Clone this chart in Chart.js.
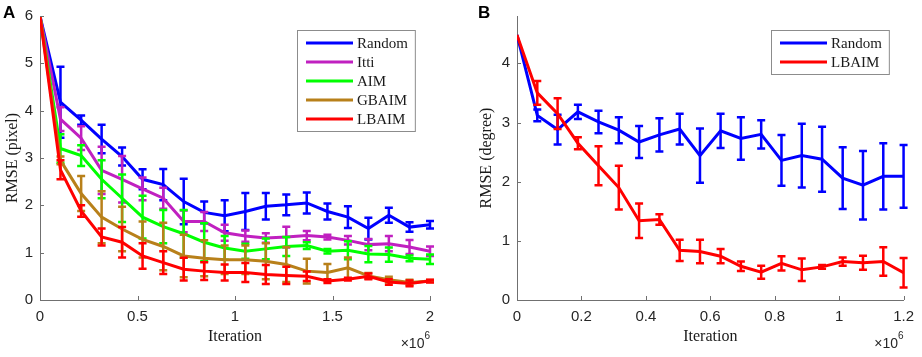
<!DOCTYPE html>
<html>
<head>
<meta charset="utf-8">
<script src="https://cdn.jsdelivr.net/npm/chart.js@4/dist/chart.umd.min.js"></script>
<style>
  html, body { margin: 0; padding: 0; background: #fff; }
  #wrap { position: relative; width: 922px; height: 357px; }
  canvas { position: absolute; top: 0; }
  #chartA { left: 0; }
  #chartB { left: 461px; }
</style>
</head>
<body>
<div id="wrap">
  <canvas id="chartA" width="461" height="357"></canvas>
  <canvas id="chartB" width="461" height="357"></canvas>
</div>
<script>
// iterations, in units of 1e6
const iterA = [0, 0.105, 0.211, 0.316, 0.421, 0.526, 0.632, 0.737, 0.842, 0.947,
               1.053, 1.158, 1.263, 1.368, 1.474, 1.579, 1.684, 1.789, 1.895, 2.0];
const iterB = [0, 0.063, 0.126, 0.189, 0.253, 0.316, 0.379, 0.442, 0.505, 0.568,
               0.632, 0.695, 0.758, 0.821, 0.884, 0.947, 1.011, 1.074, 1.137, 1.2];

// panel A - RMSE (pixel)
const randomA    = [6, 4.18, 3.8, 3.4, 3.03, 2.55, 2.44, 2.08, 1.85, 1.78, 1.87, 1.98, 2.01, 2.05, 1.87, 1.75, 1.51, 1.79, 1.54, 1.59];
const randomAErr = [0, 0.75, 0.1, 0.3, 0.19, 0.21, 0.33, 0.48, 0.23, 0.33, 0.39, 0.28, 0.22, 0.22, 0.17, 0.23, 0.23, 0.16, 0.1, 0.08];
const ittiA      = [6, 3.82, 3.42, 2.74, 2.55, 2.35, 2.15, 1.66, 1.66, 1.42, 1.35, 1.31, 1.33, 1.36, 1.33, 1.26, 1.17, 1.19, 1.12, 1.03];
const ittiAErr   = [0, 0.25, 0.25, 0.5, 0.49, 0.24, 0.22, 0.23, 0.2, 0.17, 0.12, 0.1, 0.22, 0.1, 0.05, 0.09, 0.12, 0.16, 0.15, 0.1];
const aimA       = [6, 3.2, 3.05, 2.55, 2.15, 1.75, 1.55, 1.4, 1.22, 1.1, 1.03, 1.08, 1.13, 1.15, 1.03, 1.05, 0.97, 0.96, 0.88, 0.86];
const aimAErr    = [0, 0.3, 0.22, 0.4, 0.5, 0.45, 0.35, 0.5, 0.4, 0.25, 0.16, 0.22, 0.2, 0.07, 0.05, 0.19, 0.17, 0.15, 0.06, 0.1];
const gbaimA     = [6, 2.95, 2.25, 1.75, 1.5, 1.28, 1.13, 0.93, 0.88, 0.85, 0.85, 0.82, 0.75, 0.61, 0.58, 0.68, 0.51, 0.43, 0.37, 0.4];
const gbaimAErr  = [0, 0.08, 0.37, 0.55, 0.47, 0.38, 0.5, 0.45, 0.38, 0.3, 0.3, 0.38, 0.37, 0.26, 0.18, 0.22, 0.06, 0.06, 0.06, 0.02];
const lbaimA     = [6, 2.75, 1.88, 1.33, 1.22, 0.93, 0.79, 0.65, 0.61, 0.58, 0.58, 0.54, 0.52, 0.5, 0.4, 0.44, 0.5, 0.38, 0.35, 0.4];
const lbaimAErr  = [0, 0.2, 0.12, 0.18, 0.32, 0.27, 0.24, 0.24, 0.19, 0.17, 0.2, 0.2, 0.18, 0.1, 0.04, 0.03, 0.06, 0.06, 0.06, 0.03];

// panel B - RMSE (degree)
const randomB    = [4.48, 3.12, 2.88, 3.18, 3.01, 2.87, 2.67, 2.79, 2.89, 2.44, 2.86, 2.73, 2.8, 2.36, 2.44, 2.38, 2.06, 1.94, 2.09, 2.09];
const randomBErr = [0, 0.1, 0.25, 0.12, 0.19, 0.22, 0.27, 0.28, 0.26, 0.46, 0.29, 0.36, 0.24, 0.43, 0.54, 0.55, 0.52, 0.58, 0.56, 0.53];
const lbaimB     = [4.48, 3.5, 3.15, 2.65, 2.27, 1.9, 1.34, 1.36, 0.84, 0.82, 0.74, 0.57, 0.47, 0.62, 0.51, 0.56, 0.65, 0.63, 0.65, 0.46];
const lbaimBErr  = [0, 0.2, 0.26, 0.1, 0.33, 0.37, 0.29, 0.09, 0.18, 0.2, 0.12, 0.08, 0.11, 0.12, 0.19, 0.03, 0.07, 0.12, 0.24, 0.25];

const AXIS = '#707070';
const TEXT = '#262626';
const SERIF = '"Liberation Serif", "Times New Roman", serif';
const SANS = '"Liberation Sans", Arial, sans-serif';

function series(label, xs, ys, err, color, i, n) {
  return {
    label, err,
    data: xs.map((x, k) => ({ x, y: ys[k] })),
    borderColor: color, backgroundColor: color,
    borderWidth: 3, pointRadius: 0, tension: 0,
    order: n - i   // later series drawn on top, like matlab
  };
}

const errorBars = {
  id: 'errorBars',
  afterDatasetDraw(chart, args) {
    const ds = chart.data.datasets[args.index];
    if (!ds.err) return;
    const ctx = chart.ctx, sx = chart.scales.x, sy = chart.scales.y;
    ctx.save();
    ctx.strokeStyle = ds.borderColor;
    ctx.lineWidth = 2.5;
    ds.data.forEach((p, k) => {
      const e = ds.err[k];
      if (!e) return;
      const x = sx.getPixelForValue(p.x);
      const y1 = sy.getPixelForValue(p.y + e), y2 = sy.getPixelForValue(p.y - e);
      ctx.beginPath();
      ctx.moveTo(x, y1); ctx.lineTo(x, y2);
      ctx.moveTo(x - 4, y1); ctx.lineTo(x + 4, y1);
      ctx.moveTo(x - 4, y2); ctx.lineTo(x + 4, y2);
      ctx.stroke();
    });
    ctx.restore();
  }
};

const boxLegend = {
  id: 'boxLegend',
  afterDraw(chart) {
    const ctx = chart.ctx, a = chart.chartArea, dss = chart.data.datasets;
    ctx.save();
    ctx.font = '15px ' + SERIF;
    const tw = Math.max(...dss.map(d => ctx.measureText(d.label).width));
    const w = 9 + 47 + 4 + tw + 7, h = 25 + 19 * (dss.length - 1);
    const x0 = Math.round(a.right - 15 - w), y0 = Math.round(a.top + 14);
    ctx.fillStyle = '#fff';
    ctx.fillRect(x0, y0, w, h);
    ctx.strokeStyle = '#8c8c8c';
    ctx.lineWidth = 1;
    ctx.strokeRect(x0 + 0.5, y0 + 0.5, w, h);
    dss.forEach((d, i) => {
      const y = y0 + 13 + 19 * i;
      ctx.strokeStyle = d.borderColor;
      ctx.lineWidth = 3;
      ctx.beginPath(); ctx.moveTo(x0 + 9, y); ctx.lineTo(x0 + 56, y); ctx.stroke();
      ctx.fillStyle = '#1a1a1a';
      ctx.textBaseline = 'middle';
      ctx.fillText(d.label, x0 + 60, y + 1);
    });
    ctx.restore();
  }
};

// inward ticks, panel letter and the x10^6 multiplier
const decor = {
  id: 'decor',
  afterDraw(chart, args, opts) {
    const ctx = chart.ctx, a = chart.chartArea, sx = chart.scales.x, sy = chart.scales.y;
    ctx.save();
    ctx.strokeStyle = AXIS;
    ctx.lineWidth = 1;
    ctx.beginPath();
    sx.ticks.forEach(t => {
      const x = Math.round(sx.getPixelForValue(t.value)) + 0.5;
      ctx.moveTo(x, a.bottom); ctx.lineTo(x, a.bottom - 4);
    });
    sy.ticks.forEach(t => {
      const y = Math.round(sy.getPixelForValue(t.value)) + 0.5;
      ctx.moveTo(a.left, y); ctx.lineTo(a.left + 4, y);
    });
    ctx.stroke();

    ctx.fillStyle = '#000';
    ctx.font = 'bold 17px ' + SANS;
    ctx.textBaseline = 'alphabetic';
    ctx.fillText(opts.letter, opts.lx, 18);

    ctx.fillStyle = TEXT;
    ctx.font = '10px ' + SANS;
    const w6 = ctx.measureText('6').width;
    ctx.fillText('6', a.right - w6, 339);
    ctx.font = '14px ' + SANS;
    ctx.textAlign = 'right';
    ctx.fillText('\u00d710', a.right - w6, 348);
    ctx.restore();
  }
};

function makeChart(id, datasets, o) {
  return new Chart(document.getElementById(id), {
    type: 'line',
    data: { datasets },
    plugins: [errorBars, boxLegend, decor],
    options: {
      responsive: false,
      animation: false,
      devicePixelRatio: 1,
      layout: { padding: { left: 0, right: o.padRight, top: 13, bottom: 0 } },
      plugins: {
        legend: { display: false },
        tooltip: { enabled: false },
        decor: { letter: o.letter, lx: o.lx }
      },
      scales: {
        x: {
          type: 'linear', min: 0, max: o.xMax,
          grid: { display: false, drawTicks: false },
          border: { color: AXIS, width: 1 },
          ticks: { stepSize: o.xStep, padding: 8, color: TEXT, font: { family: SANS, size: 15 },
                   maxRotation: 0, callback: v => String(+v.toFixed(1)) },
          title: { display: true, text: 'Iteration', color: '#1a1a1a',
                   font: { family: SERIF, size: 16 }, padding: { top: 0, bottom: 11 } },
          afterFit: s => { s.height = 57; }
        },
        y: {
          min: 0, max: o.yMax,
          grid: { display: false, drawTicks: false },
          border: { color: AXIS, width: 1 },
          ticks: { stepSize: 1, includeBounds: false, padding: 7, color: TEXT,
                   font: { family: SANS, size: 15 } },
          title: { display: true, text: o.yTitle, color: '#1a1a1a',
                   font: { family: SERIF, size: 16 }, padding: { top: o.yTitlePad, bottom: 0 } },
          afterFit: s => { s.width = o.yWidth; }
        }
      }
    }
  });
}

const namesA = ['Random', 'Itti', 'AIM', 'GBAIM', 'LBAIM'];
const colorsA = ['#0000ff', '#c020c0', '#00ff00', '#b8801a', '#ff0000'];
const valsA = [randomA, ittiA, aimA, gbaimA, lbaimA];
const errsA = [randomAErr, ittiAErr, aimAErr, gbaimAErr, lbaimAErr];

makeChart('chartA',
  namesA.map((n, i) => series(n, iterA, valsA[i], errsA[i], colorsA[i], i, namesA.length)),
  { letter: 'A', lx: 3, padRight: 31, xMax: 2, xStep: 0.5, yMax: 6,
    yTitle: 'RMSE (pixel)', yTitlePad: 3, yWidth: 40 });

makeChart('chartB', [
    series('Random', iterB, randomB, randomBErr, '#0000ff', 0, 2),
    series('LBAIM', iterB, lbaimB, lbaimBErr, '#ff0000', 1, 2)
  ],
  { letter: 'B', lx: 17, padRight: 15, xMax: 1.2, xStep: 0.2, yMax: 4.8,
    yTitle: 'RMSE (degree)', yTitlePad: 16, yWidth: 56 });
</script>
</body>
</html>
